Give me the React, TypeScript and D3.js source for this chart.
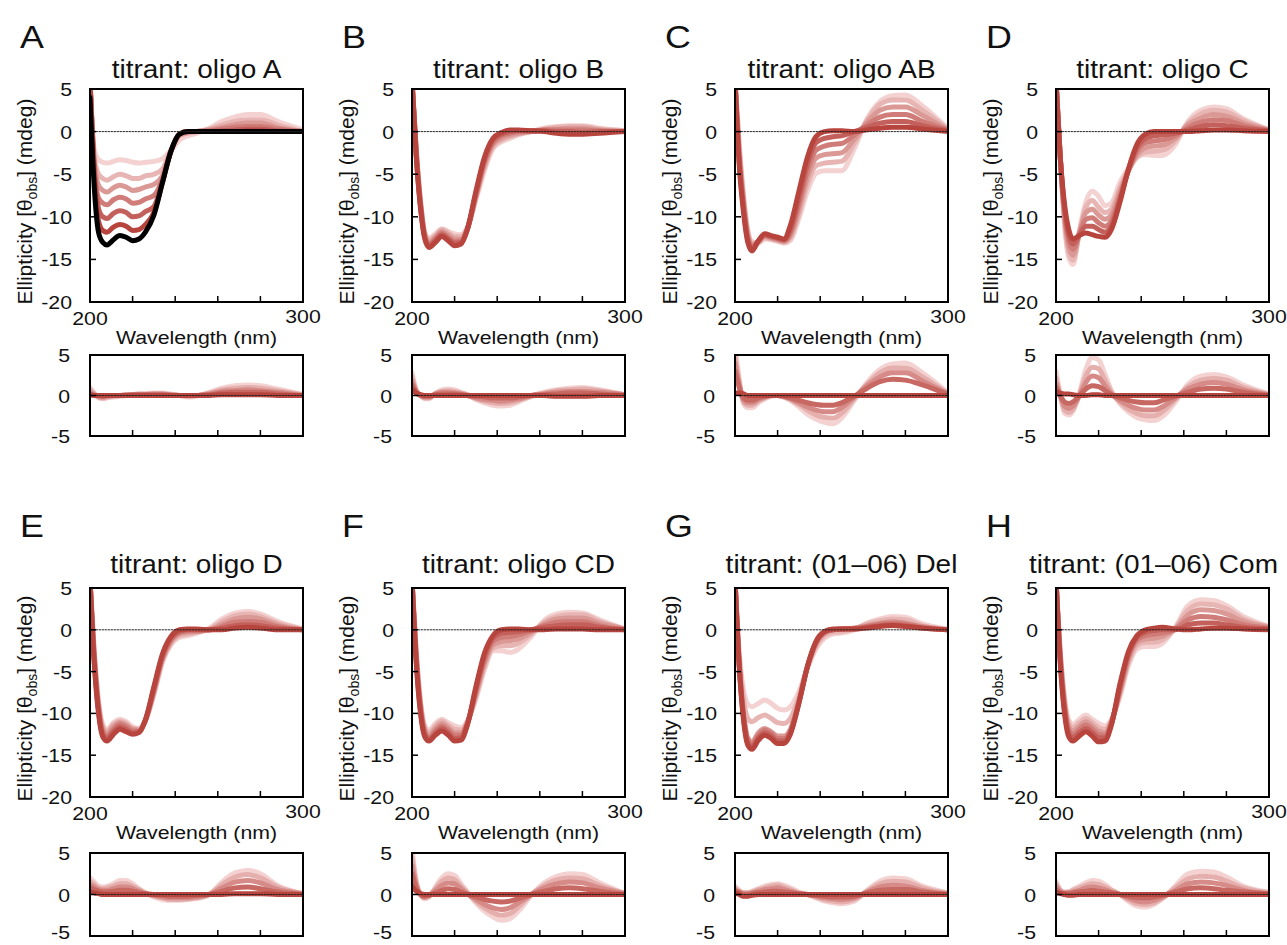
import React from "react";
import * as d3 from "d3";

// wavelength grid (nm) shared by every spectrum
const WAVELENGTH = [200, 202, 204, 206, 208, 211, 214, 217, 220, 223, 226, 230, 234, 238, 242, 246, 250, 256, 262, 268, 274, 280, 288, 300];

const X_TICKS = [220, 240, 260, 280];
const MAIN_TICKS = [5, 0, -5, -10, -15, -20];
const SUB_TICKS = [5, 0, -5];

// A: titrant oligo A (black = reference spectrum)
const refA = [4, -6.5, -11.8, -13, -13.3, -12.7, -12.2, -12.4, -12.8, -12.6, -11.8, -9.8, -6, -2.3, -0.3, 0, 0, 0, 0, 0, 0, 0, 0, 0];
const mainA = [
  [6, -5, -10.5, -11.6, -11.8, -11.2, -10.9, -11.1, -11.6, -11.5, -10.9, -9.5, -6, -2.3, -0.3, 0, 0, 0, 0, 0, 0.1, 0.1, 0, 0],
  [6, -4.5, -9, -10, -10.2, -9.6, -9.3, -9.5, -10, -9.9, -9.4, -8.8, -5.8, -2.3, -0.3, 0, 0, 0, 0.1, 0.2, 0.3, 0.3, 0.1, 0],
  [6, -4, -7.8, -8.4, -8.6, -8, -7.7, -7.9, -8.4, -8.3, -7.9, -7.5, -5.6, -2.3, -0.3, 0, 0, 0.1, 0.3, 0.5, 0.6, 0.6, 0.3, 0],
  [6, -3.5, -6.3, -6.9, -7.1, -6.6, -6.3, -6.5, -6.9, -6.8, -6.5, -6.2, -5.2, -2.3, -0.4, -0.1, 0, 0.2, 0.5, 0.8, 1, 1, 0.5, 0],
  [6, -3, -5, -5.5, -5.7, -5.3, -5, -5.2, -5.5, -5.5, -5.2, -5, -4.4, -2.2, -0.5, -0.2, 0, 0.3, 0.8, 1.2, 1.4, 1.4, 0.8, 0],
  [6, -2, -3.3, -3.6, -3.7, -3.5, -3.3, -3.4, -3.6, -3.7, -3.6, -3.5, -3.2, -2.2, -1, -0.5, -0.2, 0.4, 1.2, 1.7, 2, 2, 1.2, 0.2],
];
const resA = [
  [0.1, 0, 0, 0, 0, 0, 0, 0, 0, 0, 0, 0, 0, 0, 0, 0, 0, 0, 0.1, 0.1, 0.1, 0.1, 0, 0],
  [0.2, 0, 0, -0.1, 0, 0, 0, 0, 0.1, 0.1, 0.1, 0.1, 0.1, 0, 0, 0, 0, 0.1, 0.3, 0.4, 0.4, 0.4, 0.2, 0],
  [0.4, 0.1, -0.1, -0.2, -0.1, 0, 0, 0.1, 0.1, 0.1, 0.1, 0.2, 0.2, 0.1, 0, 0, 0, 0.2, 0.5, 0.6, 0.7, 0.6, 0.4, 0],
  [0.7, 0.2, -0.2, -0.3, -0.2, -0.1, 0, 0.1, 0.1, 0.2, 0.2, 0.2, 0.2, 0.1, 0, -0.1, 0, 0.3, 0.7, 0.9, 1, 0.9, 0.6, 0.1],
  [1, 0.3, -0.3, -0.4, -0.3, -0.2, -0.1, 0, 0.1, 0.2, 0.2, 0.3, 0.3, 0.2, 0, -0.2, -0.1, 0.4, 0.9, 1.2, 1.3, 1.2, 0.8, 0.1],
];

// B: titrant oligo B
const mainB = [
  [6, -3, -9, -12.6, -13.6, -13, -12.3, -12.8, -13.4, -13.2, -11.5, -7, -3, -0.8, -0.1, 0.2, 0.2, 0.1, 0, -0.2, -0.3, -0.3, -0.2, 0],
  [6, -2.8, -8.8, -12.4, -13.4, -12.8, -12.1, -12.6, -13.1, -13, -11.5, -7.2, -3.3, -1, -0.3, 0, 0.1, 0.1, 0.1, 0, 0, -0.1, 0, 0],
  [6, -2.6, -8.6, -12.3, -13.2, -12.6, -11.9, -12.4, -12.9, -12.8, -11.4, -7.4, -3.6, -1.3, -0.5, -0.2, 0, 0, 0.2, 0.2, 0.2, 0.2, 0.1, 0],
  [6, -2.4, -8.4, -12.1, -13, -12.4, -11.7, -12.1, -12.6, -12.6, -11.4, -7.6, -3.9, -1.5, -0.8, -0.4, -0.2, 0, 0.2, 0.3, 0.4, 0.4, 0.2, 0],
  [6, -2.2, -8.2, -12, -12.7, -12.2, -11.5, -11.9, -12.3, -12.3, -11.3, -7.8, -4.2, -1.8, -1, -0.6, -0.3, 0, 0.3, 0.5, 0.6, 0.6, 0.3, 0.1],
  [6, -2, -8, -11.8, -12.5, -12, -11.4, -11.7, -12, -12.1, -11.2, -8, -4.6, -2, -1.2, -0.8, -0.4, 0, 0.4, 0.6, 0.7, 0.7, 0.4, 0.1],
];
const resB = [
  [0.8, 0.3, 0.1, 0, 0, 0, 0, 0, 0, 0, 0, 0, 0, 0, 0, 0, 0, 0, 0, -0.1, -0.1, -0.1, 0, 0],
  [1.3, 0.4, 0, -0.1, -0.1, 0.1, 0.2, 0.2, 0.2, 0.1, 0, -0.1, -0.2, -0.3, -0.3, -0.3, -0.2, 0, 0.1, 0.2, 0.3, 0.3, 0.2, 0],
  [1.8, 0.5, 0, -0.2, -0.2, 0.2, 0.4, 0.4, 0.3, 0.2, 0, -0.3, -0.5, -0.6, -0.7, -0.6, -0.4, 0, 0.2, 0.4, 0.5, 0.5, 0.4, 0.1],
  [2.3, 0.6, 0, -0.3, -0.3, 0.2, 0.5, 0.6, 0.5, 0.3, 0.1, -0.4, -0.7, -0.9, -1, -0.9, -0.6, -0.1, 0.3, 0.6, 0.7, 0.8, 0.6, 0.1],
  [2.8, 0.7, 0, -0.4, -0.4, 0.3, 0.7, 0.8, 0.7, 0.4, 0.1, -0.5, -0.9, -1.2, -1.3, -1.2, -0.8, -0.1, 0.4, 0.7, 0.9, 1, 0.7, 0.1],
];

// C: titrant oligo AB
const mainC = [
  [6, -4, -9.5, -13, -14, -12.8, -12, -12.2, -12.4, -12.6, -11, -7, -3, -0.6, 0, 0.1, 0.1, 0, 0.2, 0.4, 0.5, 0.5, 0.3, 0],
  [6, -3.5, -9, -12.7, -13.7, -12.8, -12.1, -12.3, -12.5, -12.7, -11.5, -7.8, -3.8, -1.3, -0.8, -0.6, -0.5, 0, 0.5, 1, 1.2, 1.2, 0.7, 0.1],
  [6, -3, -8.6, -12.4, -13.5, -12.9, -12.2, -12.4, -12.6, -12.8, -11.9, -8.5, -4.6, -2.2, -1.7, -1.5, -1.4, -0.4, 0.8, 1.7, 2, 2, 1.2, 0.2],
  [6, -2.5, -8.2, -12.1, -13.3, -12.9, -12.3, -12.5, -12.7, -12.9, -12.2, -9.1, -5.4, -3.1, -2.7, -2.6, -2.5, -0.9, 1.1, 2.5, 2.9, 2.9, 1.9, 0.2],
  [6, -2, -7.8, -11.8, -13.1, -13, -12.5, -12.6, -12.8, -13, -12.5, -9.7, -6.2, -4, -3.7, -3.6, -3.5, -1.4, 1.3, 3.2, 3.7, 3.7, 2.5, 0.3],
  [6, -1.5, -7.4, -11.5, -12.9, -13.1, -12.6, -12.7, -12.9, -13.1, -12.8, -10.2, -7, -4.9, -4.6, -4.6, -4.6, -2, 1.5, 3.5, 4.2, 4.3, 3, 0.3],
];
const resC = [
  [0.3, 0.3, 0.2, 0, 0, 0, 0, 0, 0, 0, 0, 0, 0, 0, 0, 0, 0, 0, 0, 0, 0, 0, 0, 0],
  [3, 1, -0.3, -0.6, -0.6, -0.3, -0.1, 0, 0, -0.1, -0.3, -0.6, -0.9, -1.1, -1.2, -1.2, -0.9, -0.1, 0.9, 1.7, 2, 1.9, 1.3, 0.1],
  [4, 1.3, -0.5, -0.9, -0.9, -0.5, -0.2, 0, 0, -0.1, -0.4, -0.9, -1.4, -1.8, -2, -2, -1.5, -0.2, 1.2, 2.3, 2.8, 2.8, 1.8, 0.2],
  [5, 1.6, -0.8, -1.2, -1.2, -0.7, -0.3, 0, 0, -0.2, -0.5, -1.1, -1.8, -2.4, -2.7, -2.8, -2.2, -0.4, 1.4, 2.8, 3.4, 3.4, 2.3, 0.2],
  [6, 2, -1, -1.5, -1.5, -0.9, -0.4, -0.1, 0, -0.2, -0.6, -1.4, -2.3, -2.9, -3.3, -3.5, -2.8, -0.6, 1.6, 3.2, 3.9, 4, 2.8, 0.3],
];

// D: titrant oligo C
const mainD = [
  [6, -3, -8.5, -11.5, -12.6, -12.2, -11.9, -12.1, -12.3, -12.4, -11.5, -8.3, -4.4, -1.5, -0.3, 0, 0, 0, 0, 0.1, 0.2, 0.2, 0.1, 0],
  [6, -3, -9, -12.2, -13.2, -12.1, -11.1, -11.1, -11.5, -11.8, -11.1, -8, -4.5, -1.9, -0.8, -0.5, -0.4, -0.2, 0.2, 0.6, 0.8, 0.7, 0.4, 0.1],
  [6, -3, -9.5, -12.8, -13.8, -12, -10.3, -10.1, -10.7, -11.1, -10.5, -7.6, -4.6, -2.3, -1.3, -1.1, -1, -0.5, 0.5, 1.1, 1.4, 1.3, 0.7, 0.1],
  [6, -3, -10, -13.5, -14.5, -11.9, -9.5, -9.1, -9.8, -10.3, -9.8, -7.1, -4.6, -2.7, -1.9, -1.7, -1.6, -0.8, 0.8, 1.6, 2, 1.8, 1, 0.2],
  [6, -3, -10.5, -14.2, -15.1, -11.8, -8.9, -8.1, -8.9, -9.5, -9.1, -6.6, -4.5, -3, -2.4, -2.3, -2.2, -1.1, 1, 2.1, 2.5, 2.3, 1.3, 0.2],
  [6, -3, -11, -14.8, -15.6, -11.6, -8.3, -7, -7.6, -8.7, -8.4, -6, -4.3, -3, -2.7, -2.8, -2.8, -1.5, 1.2, 2.5, 2.9, 2.7, 1.5, 0.2],
];
const resD = [
  [0.5, 0.3, 0.2, 0.2, 0.1, 0, 0, 0.1, 0.1, 0, 0, 0, 0, 0, 0, 0, 0, 0, 0, 0, 0, 0, 0, 0],
  [1, 0, -0.8, -1, -0.8, 0, 0.8, 1.2, 1.1, 0.6, 0.1, -0.3, -0.6, -0.8, -0.9, -0.9, -0.6, -0.1, 0.4, 0.8, 0.9, 0.8, 0.4, 0],
  [1.5, 0, -1.3, -1.6, -1.3, 0, 1.6, 2.4, 2.2, 1.2, 0.2, -0.6, -1.2, -1.6, -1.8, -1.8, -1.4, -0.3, 0.8, 1.4, 1.6, 1.4, 0.7, 0.1],
  [2.2, 0, -1.8, -2.1, -1.7, 0.1, 2.4, 3.5, 3.3, 1.9, 0.4, -0.8, -1.7, -2.2, -2.5, -2.5, -2, -0.5, 1.1, 1.9, 2.1, 1.9, 1, 0.1],
  [3, 0.2, -2.2, -2.4, -1.9, 0.3, 3.2, 4.7, 4.4, 2.6, 0.6, -1, -2, -2.7, -3, -3.1, -2.6, -0.8, 1.4, 2.4, 2.6, 2.3, 1.3, 0.2],
];

// E: titrant oligo D
const mainE = [
  [6, -4, -10, -12.8, -13.3, -12.5, -11.9, -12.2, -12.5, -12.3, -10.8, -6.8, -2.9, -0.8, 0, 0.1, 0.1, 0, 0, 0.2, 0.3, 0.2, 0, 0],
  [6, -3.7, -9.7, -12.5, -13, -12.2, -11.6, -11.9, -12.3, -12.2, -10.8, -7, -3.1, -1, -0.2, 0, 0, 0, 0.2, 0.5, 0.6, 0.5, 0.2, 0],
  [6, -3.4, -9.4, -12.2, -12.7, -11.9, -11.3, -11.6, -12.1, -12.1, -10.8, -7.2, -3.3, -1.2, -0.3, -0.1, -0.1, 0, 0.4, 0.9, 1, 0.9, 0.4, 0],
  [6, -3.1, -9.1, -11.9, -12.4, -11.6, -11.1, -11.4, -11.9, -12, -10.8, -7.4, -3.5, -1.4, -0.5, -0.3, -0.2, 0, 0.7, 1.3, 1.5, 1.3, 0.6, 0],
  [6, -2.8, -8.8, -11.6, -12.1, -11.3, -10.9, -11.2, -11.8, -11.9, -10.9, -7.6, -3.7, -1.6, -0.7, -0.5, -0.3, 0.1, 1, 1.7, 1.9, 1.6, 0.8, 0.1],
  [6, -2.5, -8.5, -11.3, -11.9, -11.1, -10.7, -11, -11.6, -11.8, -10.9, -7.8, -3.9, -1.8, -0.9, -0.7, -0.4, 0.2, 1.3, 2, 2.2, 1.9, 1, 0.1],
];
const resE = [
  [0.3, 0.2, 0.1, 0, 0, 0, 0, 0, 0, 0, 0, 0, 0, 0, 0, 0, 0, 0, 0, 0.1, 0.1, 0.1, 0, 0],
  [0.8, 0.6, 0.4, 0.3, 0.3, 0.4, 0.5, 0.5, 0.4, 0.2, 0.1, 0, -0.1, -0.2, -0.2, -0.2, -0.1, 0, 0.4, 0.8, 0.9, 0.7, 0.3, 0],
  [1.2, 0.9, 0.6, 0.5, 0.5, 0.7, 0.9, 0.9, 0.7, 0.4, 0.1, -0.1, -0.3, -0.4, -0.4, -0.4, -0.3, 0, 0.8, 1.5, 1.7, 1.4, 0.6, 0.1],
  [1.6, 1.2, 0.8, 0.7, 0.8, 1, 1.3, 1.3, 1, 0.6, 0.2, -0.2, -0.4, -0.6, -0.6, -0.5, -0.4, 0, 1.2, 2.1, 2.4, 2, 0.9, 0.1],
  [2, 1.5, 1, 0.9, 1, 1.3, 1.7, 1.7, 1.3, 0.7, 0.2, -0.3, -0.6, -0.7, -0.7, -0.6, -0.5, 0, 1.5, 2.6, 2.9, 2.5, 1.1, 0.1],
];

// F: titrant oligo CD
const mainF = [
  [6, -4, -10, -12.8, -13.3, -12.6, -12.1, -12.6, -13.3, -13.2, -11.4, -6.8, -2.8, -0.7, 0, 0.1, 0.1, 0, 0, 0.1, 0.1, 0.1, 0, 0],
  [6, -3.7, -9.7, -12.5, -13.1, -12.4, -11.8, -12.3, -13, -12.9, -11.3, -7.1, -3.2, -1, -0.4, -0.3, -0.2, 0, 0.3, 0.5, 0.6, 0.6, 0.3, 0],
  [6, -3.4, -9.4, -12.3, -12.9, -12.1, -11.5, -12, -12.6, -12.6, -11.2, -7.4, -3.6, -1.4, -0.9, -0.8, -0.6, -0.1, 0.5, 0.9, 1, 1, 0.5, 0],
  [6, -3.1, -9.1, -12, -12.6, -11.8, -11.2, -11.7, -12.3, -12.3, -11.1, -7.7, -4, -1.8, -1.4, -1.3, -1.1, -0.3, 0.7, 1.3, 1.4, 1.4, 0.8, 0.1],
  [6, -2.8, -8.8, -11.7, -12.3, -11.5, -10.9, -11.4, -11.9, -12, -11, -8, -4.4, -2.2, -1.9, -1.9, -1.6, -0.5, 0.9, 1.6, 1.8, 1.8, 1, 0.1],
  [6, -2.5, -8.5, -11.5, -12, -11.2, -10.7, -11.1, -11.5, -11.7, -10.9, -8.3, -4.8, -2.5, -2.5, -2.7, -2.3, -0.8, 1.1, 1.9, 2.1, 2, 1.2, 0.1],
];
const resF = [
  [1, 0.4, 0.1, 0, 0, 0, 0, 0, 0, 0, 0, 0, 0, 0, 0, 0, 0, 0, 0, 0, 0, 0, 0, 0],
  [2.5, 0.8, 0, -0.2, -0.1, 0.2, 0.5, 0.7, 0.6, 0.3, 0, -0.3, -0.6, -0.8, -0.9, -0.8, -0.5, 0, 0.4, 0.7, 0.8, 0.7, 0.4, 0],
  [3.5, 1.1, 0, -0.3, -0.1, 0.5, 1.1, 1.4, 1.3, 0.7, 0.1, -0.6, -1.2, -1.6, -1.8, -1.6, -1, 0, 0.8, 1.3, 1.5, 1.4, 0.8, 0.1],
  [4.5, 1.4, 0, -0.4, -0.2, 0.7, 1.6, 2, 1.8, 1, 0.2, -0.8, -1.6, -2.2, -2.5, -2.3, -1.5, 0, 1.1, 1.8, 2, 1.9, 1.1, 0.1],
  [5.5, 1.7, 0, -0.5, -0.3, 0.9, 2, 2.5, 2.3, 1.3, 0.3, -1, -2, -2.7, -3.1, -2.9, -2, -0.1, 1.4, 2.2, 2.5, 2.4, 1.4, 0.1],
];

// G: titrant (01–06) Del
const mainG = [
  [6, -4.5, -10.8, -13.8, -14.3, -13.2, -12.6, -13, -13.6, -13.6, -12.5, -8.8, -4.4, -1.4, -0.2, 0.1, 0.1, 0.1, 0.2, 0.4, 0.5, 0.4, 0.2, 0],
  [6, -4.3, -10.5, -13.5, -14, -12.9, -12.3, -12.7, -13.3, -13.3, -12.3, -8.7, -4.4, -1.5, -0.3, 0, 0.1, 0.1, 0.3, 0.5, 0.6, 0.5, 0.2, 0],
  [6, -4.1, -10.2, -13.2, -13.7, -12.6, -12, -12.4, -13, -13, -12.1, -8.6, -4.4, -1.6, -0.3, 0, 0.1, 0.2, 0.4, 0.7, 0.8, 0.7, 0.3, 0],
  [6, -3.9, -9.9, -12.9, -13.4, -12.3, -11.8, -12.2, -12.7, -12.7, -11.9, -8.5, -4.4, -1.7, -0.4, 0, 0.1, 0.2, 0.5, 0.8, 1, 0.8, 0.4, 0],
  [6, -3.2, -8.3, -10.6, -11, -10.5, -10.2, -10.6, -11.1, -11.2, -10.6, -8, -4.5, -2, -0.7, -0.3, -0.2, 0.1, 0.7, 1.1, 1.3, 1.2, 0.5, 0],
  [6, -2.8, -7.2, -8.9, -9.2, -8.8, -8.4, -8.8, -9.4, -9.6, -9.2, -7.4, -4.6, -2.3, -1, -0.5, -0.4, 0, 0.8, 1.3, 1.6, 1.5, 0.7, 0.1],
];
const resG = [
  [0.2, 0, -0.2, -0.2, -0.1, 0, 0, 0, 0, 0, 0, 0, 0, 0, 0, 0, 0, 0, 0, 0, 0, 0, 0, 0],
  [0.4, 0.2, 0, 0, 0.1, 0.2, 0.3, 0.4, 0.4, 0.3, 0.2, 0.1, 0, -0.1, -0.2, -0.3, -0.3, -0.2, 0.2, 0.5, 0.6, 0.6, 0.3, 0],
  [0.6, 0.3, 0.1, 0.1, 0.2, 0.4, 0.6, 0.7, 0.8, 0.6, 0.4, 0.1, 0, -0.2, -0.4, -0.5, -0.6, -0.4, 0.3, 0.9, 1.1, 1, 0.5, 0.1],
  [0.8, 0.4, 0.2, 0.2, 0.3, 0.6, 0.8, 1, 1.1, 0.9, 0.6, 0.2, 0, -0.3, -0.6, -0.8, -0.9, -0.6, 0.4, 1.3, 1.6, 1.5, 0.8, 0.1],
  [1, 0.5, 0.2, 0.2, 0.4, 0.7, 1, 1.2, 1.3, 1.1, 0.8, 0.3, 0, -0.4, -0.8, -1, -1.1, -0.8, 0.5, 1.6, 2, 1.9, 1, 0.2],
];

// H: titrant (01–06) Com
const mainH = [
  [6, -4, -10, -12.8, -13.3, -12.7, -12.2, -12.7, -13.4, -13.3, -11.4, -6.5, -2.6, -0.7, 0, 0.2, 0.3, 0.1, 0, 0.1, 0.2, 0.2, 0.1, 0],
  [6, -3.7, -9.6, -12.4, -12.9, -12.3, -11.8, -12.3, -12.9, -12.9, -11.3, -6.8, -2.9, -0.9, -0.3, -0.1, 0, 0, 0.6, 0.8, 0.8, 0.6, 0.3, 0.1],
  [6, -3.4, -9.2, -12, -12.5, -11.9, -11.4, -11.9, -12.5, -12.6, -11.2, -7.1, -3.2, -1.2, -0.7, -0.5, -0.4, 0.1, 1.2, 1.6, 1.5, 1.2, 0.6, 0.2],
  [6, -3.1, -8.8, -11.6, -12.1, -11.5, -11, -11.5, -12.1, -12.3, -11, -7.4, -3.5, -1.5, -1.1, -1, -0.8, 0.1, 1.8, 2.4, 2.3, 1.9, 1, 0.3],
  [6, -2.8, -8.4, -11.2, -11.7, -11.1, -10.6, -11.1, -11.7, -11.9, -10.9, -7.7, -3.9, -1.9, -1.5, -1.5, -1.2, 0.2, 2.4, 3.1, 3, 2.5, 1.3, 0.4],
  [6, -2.5, -8, -10.8, -11.3, -10.7, -10.2, -10.7, -11.2, -11.5, -10.7, -8, -4.3, -2.3, -2, -2, -1.6, 0.3, 2.9, 3.6, 3.5, 2.9, 1.6, 0.4],
];
const resH = [
  [0.3, 0.1, 0, -0.1, -0.1, 0, 0, 0, 0, 0, 0, 0, 0, 0, 0, 0, 0, 0, 0, 0, 0, 0, 0, 0],
  [0.6, 0.2, 0.1, 0.1, 0.2, 0.3, 0.4, 0.5, 0.4, 0.3, 0.2, 0, -0.2, -0.4, -0.4, -0.3, -0.1, 0.3, 0.7, 0.8, 0.7, 0.5, 0.3, 0.1],
  [1, 0.4, 0.2, 0.2, 0.3, 0.5, 0.8, 0.9, 0.8, 0.6, 0.3, 0, -0.4, -0.8, -0.9, -0.7, -0.3, 0.5, 1.3, 1.5, 1.4, 1.1, 0.5, 0.1],
  [1.3, 0.5, 0.2, 0.3, 0.5, 0.8, 1.1, 1.3, 1.2, 0.9, 0.5, 0, -0.6, -1.1, -1.2, -1, -0.4, 0.8, 1.9, 2.2, 2.1, 1.6, 0.8, 0.2],
  [1.6, 0.6, 0.3, 0.3, 0.6, 1, 1.4, 1.7, 1.6, 1.2, 0.6, 0, -0.8, -1.4, -1.5, -1.2, -0.5, 1, 2.5, 2.8, 2.7, 2.1, 1, 0.3],
];

const LETTERS = ["A", "B", "C", "D", "E", "F", "G", "H"];
const TITLES = [
  "titrant: oligo A",
  "titrant: oligo B",
  "titrant: oligo AB",
  "titrant: oligo C",
  "titrant: oligo D",
  "titrant: oligo CD",
  "titrant: (01\u201306) Del",
  "titrant: (01\u201306) Com",
];
const MAINS = [mainA, mainB, mainC, mainD, mainE, mainF, mainG, mainH];
const RESIDS = [resA, resB, resC, resD, resE, resF, resG, resH];

// layout
const COLS = [90, 412, 735, 1056];
const PLOT_W = 213;
const ROWS = [
  { letterY: 48, titleY: 78, mainTop: 89, mainH: 213, subTop: 355, subH: 81 },
  { letterY: 537, titleY: 573, mainTop: 588, mainH: 209, subTop: 853, subH: 83 },
];
const TITLE_SHIFT = [0, 0, 0, 0, 0, 0, 0, -9]; // last title is pushed in from the page edge
const FONT = "'Liberation Sans', Arial, Helvetica, sans-serif";
const SX = 1.12; // the figure text is a little wide
const shade = d3.interpolateRgb("#b8443e", "#f3d2d1");

const Txt = ({ x, y, size, anchor = "start", children }: any) => (
  <text
    transform={`translate(${x},${y}) scale(${SX},1)`}
    fontSize={size}
    textAnchor={anchor}
    fontFamily={FONT}
    fill="#111"
  >
    {children}
  </text>
);

const Panel = ({ idx }: { idx: number }) => {
  const col = idx % 4;
  const row = Math.floor(idx / 4);
  const r = ROWS[row];
  const left = COLS[col];
  const right = left + PLOT_W;
  const mainBottom = r.mainTop + r.mainH;
  const subBottom = r.subTop + r.subH;

  const x = d3.scaleLinear().domain([200, 300]).range([left, right]);
  const yMain = d3.scaleLinear().domain([-20, 5]).range([mainBottom, r.mainTop]);
  const ySub = d3.scaleLinear().domain([-5, 5]).range([subBottom, r.subTop]);

  const mainLine = d3
    .line<number>()
    .x((_, i) => x(WAVELENGTH[i]))
    .y((d) => yMain(d))
    .curve(d3.curveMonotoneX);
  const subLine = d3
    .line<number>()
    .x((_, i) => x(WAVELENGTH[i]))
    .y((d) => ySub(d))
    .curve(d3.curveMonotoneX);

  const curves = MAINS[idx];
  const resid = RESIDS[idx];
  const clipMain = `clip-main-${idx}`;
  const clipSub = `clip-sub-${idx}`;

  return (
    <g>
      <defs>
        <clipPath id={clipMain}>
          <rect x={left} y={r.mainTop} width={PLOT_W} height={r.mainH} />
        </clipPath>
        <clipPath id={clipSub}>
          <rect x={left} y={r.subTop} width={PLOT_W} height={r.subH} />
        </clipPath>
      </defs>

      <Txt x={left - 70} y={r.letterY} size={32}>
        {LETTERS[idx]}
      </Txt>
      <Txt x={(left + right) / 2 + TITLE_SHIFT[idx]} y={r.titleY} size={25} anchor="middle">
        {TITLES[idx]}
      </Txt>

      {/* main spectra, lightest drawn first */}
      <g clipPath={`url(#${clipMain})`} fill="none" strokeLinejoin="round" strokeLinecap="round">
        {curves
          .map((c, i) => ({ c, i }))
          .reverse()
          .map(({ c, i }) => (
            <path key={i} d={mainLine(c) || ""} stroke={shade(i / (curves.length - 1))} strokeWidth={5} />
          ))}
        {idx === 0 && <path d={mainLine(refA) || ""} stroke="#000" strokeWidth={5} />}
        <line x1={left} x2={right} y1={yMain(0)} y2={yMain(0)} stroke="#222" strokeWidth={1} strokeDasharray="1.5,1.5" />
      </g>
      <rect x={left} y={r.mainTop} width={PLOT_W} height={r.mainH} fill="none" stroke="#000" strokeWidth={2} />
      {MAIN_TICKS.map((t) => (
        <g key={t}>
          <line x1={left} x2={left + 6} y1={yMain(t)} y2={yMain(t)} stroke="#000" strokeWidth={1.5} />
          <Txt x={left - 18} y={yMain(t) + 7} size={19} anchor="end">
            {t}
          </Txt>
        </g>
      ))}
      {X_TICKS.map((t) => (
        <line key={t} x1={x(t)} x2={x(t)} y1={mainBottom} y2={mainBottom - 6} stroke="#000" strokeWidth={1.5} />
      ))}
      <Txt x={x(200)} y={mainBottom + 23} size={19} anchor="middle">200</Txt>
      <Txt x={x(300)} y={mainBottom + 21} size={19} anchor="middle">300</Txt>
      <Txt x={(left + right) / 2} y={mainBottom + 42} size={19} anchor="middle">
        Wavelength (nm)
      </Txt>
      <text
        transform={`translate(${left - 58},${r.mainTop + r.mainH / 2 + 6}) rotate(-90)`}
        fontSize={21}
        textAnchor="middle"
        fontFamily={FONT}
        fill="#111"
      >
        Ellipticity [θ
        <tspan fontSize={14} dy={5}>obs</tspan>
        <tspan dy={-5}>] (mdeg)</tspan>
      </text>

      {/* residual spectra */}
      <g clipPath={`url(#${clipSub})`} fill="none" strokeLinejoin="round" strokeLinecap="round">
        {resid
          .map((c, i) => ({ c, i }))
          .reverse()
          .map(({ c, i }) => (
            <path key={i} d={subLine(c) || ""} stroke={shade(i / (resid.length - 1))} strokeWidth={5} />
          ))}
        <line x1={left} x2={right} y1={ySub(0)} y2={ySub(0)} stroke="#222" strokeWidth={1} strokeDasharray="1.5,1.5" />
      </g>
      <rect x={left} y={r.subTop} width={PLOT_W} height={r.subH} fill="none" stroke="#000" strokeWidth={2} />
      {SUB_TICKS.map((t) => (
        <g key={t}>
          <line x1={left} x2={left + 6} y1={ySub(t)} y2={ySub(t)} stroke="#000" strokeWidth={1.5} />
          <Txt x={left - 20} y={Math.min(ySub(t) + 7, 939)} size={19} anchor="end">
            {t}
          </Txt>
        </g>
      ))}
      {X_TICKS.map((t) => (
        <line key={t} x1={x(t)} x2={x(t)} y1={subBottom} y2={subBottom - 6} stroke="#000" strokeWidth={1.5} />
      ))}
    </g>
  );
};

export default function App() {
  return (
    <div style={{ position: "absolute", left: 0, top: 0 }}>
      <svg width={1287} height={945} style={{ display: "block", background: "#fff" }}>
        {LETTERS.map((_, i) => (
          <Panel key={i} idx={i} />
        ))}
      </svg>
    </div>
  );
}
